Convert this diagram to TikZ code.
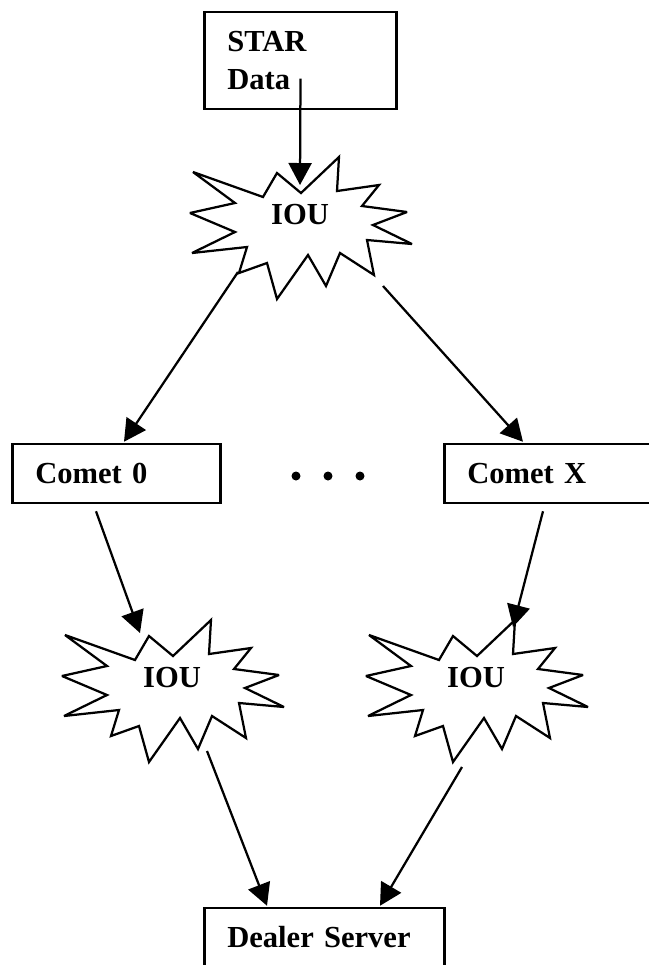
\documentclass[tikz,border=0pt]{standalone}
\usepackage{xcolor}
\usepackage{fontspec}
\setmainfont{Liberation Serif}
\usepackage{tikz}
\usetikzlibrary{positioning,calc,arrows.meta}

\tikzset{
  caixa/.style={draw,line width=0.05cm,align=left,inner xsep=0.46cm,inner ysep=0pt,
    font=\fontsize{17.4}{21.6}\selectfont\bfseries},
  rotulo/.style={inner sep=0pt,font=\fontsize{17.4}{21.6}\selectfont\bfseries},
  seta/.style={-{Triangle[length=0.44cm,width=0.46cm]},line width=0.045cm},
  estrela/.style={line width=0.045cm,miter limit=3}
}

% contorno da explosao em volta de um no
\newcommand{\explosao}[1]{%
  \draw[estrela,shift={(#1.center)}] (-107,-43) -- (-37,-18) -- (-23,-42) -- (1,-22)
    -- (39,-58) -- (37,-24) -- (79,-30) -- (62,-9) -- (107,-3) -- (73,10)
    -- (112,29) -- (67,25) -- (74,60) -- (40,38) -- (26,71) -- (8,40)
    -- (-23,84) -- (-33,48) -- (-61,58) -- (-53,32) -- (-108,38) -- (-65,17)
    -- (-110,-2) -- (-65,-12) -- cycle;}

\begin{document}
\begin{tikzpicture}[x=0.02cm,y=-0.02cm]
    \useasboundingbox (0,0) rectangle (649,965);
    \clip (0,0) rectangle (649,965);

    % Caixa de origem
    \node[caixa,text width=2.93cm,minimum height=1.94cm] (star) at (300.5,60.5) {STAR\\Data};

    % As tres explosoes IOU
    \node[rotulo] (iou1) at (300,215) {IOU};
    \node[rotulo] (iou2) at (172,678) {IOU};
    \node[rotulo] (iou3) at (476,678) {IOU};
    \explosao{iou1}
    \explosao{iou2}
    \explosao{iou3}

    % Caixas dos cometas
    \node[caixa,text width=3.25cm,minimum height=1.18cm] (comet0) at (116.5,473.5) {Comet 0};
    \node[caixa,text width=3.25cm,minimum height=1.18cm] (cometx) at (548.5,473.5) {Comet X};

    % Reticencias entre os cometas
    \foreach \x in {296,328,360}
        \fill (\x,476) circle[radius=4.5];

    % Servidor final
    \node[caixa,text width=3.89cm,minimum height=1.18cm] (dealer) at (324.5,937.5) {Dealer Server};

    % Setas
    \draw[seta] ($(star.center)+(0,18)$) -- ($(iou1.center)+(0,-30)$);
    \draw[seta] ($(iou1.center)+(-62,57)$) -- ($(comet0.north)+(7.5,-1)$);
    \draw[seta] ($(iou1.center)+(83,71)$) -- ($(cometx.north)+(-25.5,-1)$);
    \draw[seta] ($(comet0.south)+(-20.5,7)$) -- ($(iou2.center)+(-32,-45)$);
    \draw[seta] ($(cometx.south)+(-5.5,7)$) -- ($(iou3.center)+(37,-51)$);
    \draw[seta] ($(iou2.center)+(35,73)$) -- ($(dealer.north)+(-57.5,-1)$);
    \draw[seta] ($(iou3.center)+(-14,89)$) -- ($(dealer.north)+(55.5,-1)$);

\end{tikzpicture}
\end{document}
